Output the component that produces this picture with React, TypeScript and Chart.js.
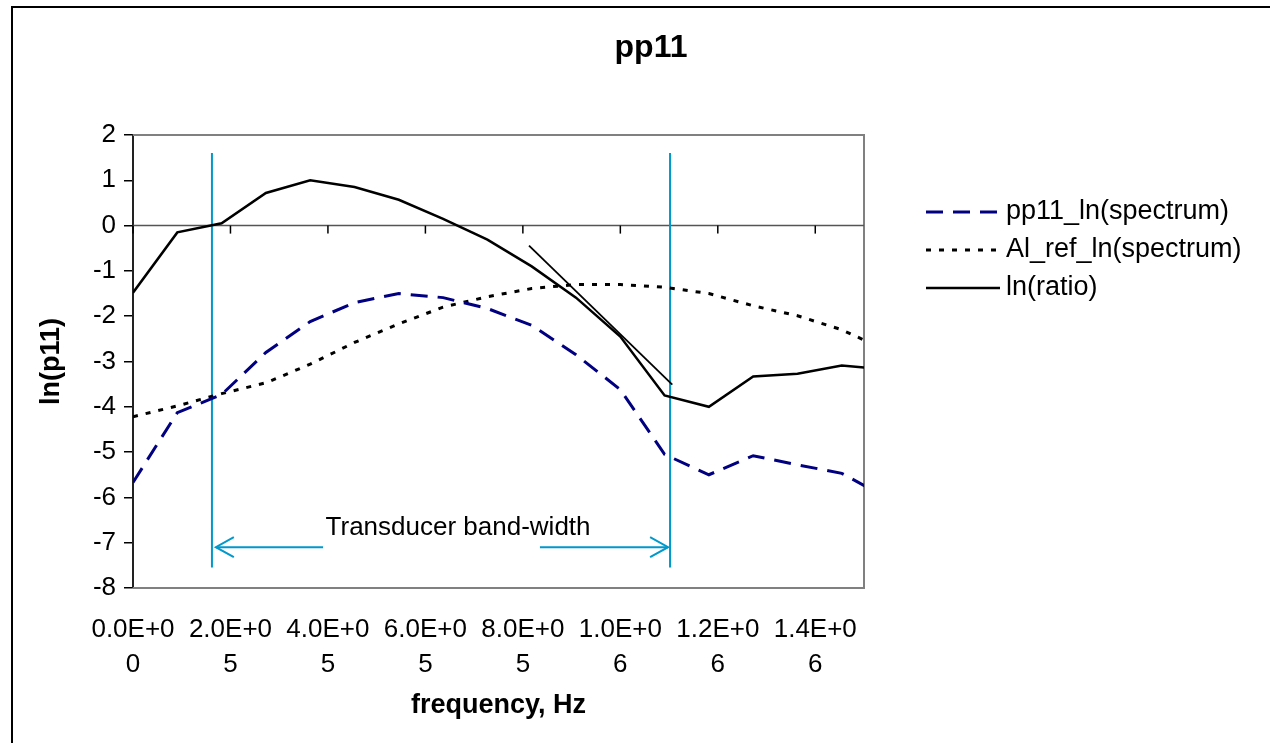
import { useEffect, useRef } from "react";
import { Chart, registerables } from "chart.js";

Chart.register(...registerables);

// ---- data ----
const FREQ_HZ = [
  0, 90900, 181800, 272700, 363600, 454500, 545400, 636300, 727200, 818100,
  909000, 999900, 1090800, 1181700, 1272600, 1363500, 1454400, 1545300,
];
const PP11_LN = [
  -5.67, -4.13, -3.73, -2.8, -2.12, -1.7, -1.5, -1.59, -1.83, -2.2,
  -2.85, -3.62, -5.05, -5.5, -5.08, -5.28, -5.47, -6.0,
];
const AL_REF_LN = [
  -4.22, -3.98, -3.71, -3.47, -3.06, -2.58, -2.17, -1.8, -1.57, -1.39,
  -1.3, -1.3, -1.36, -1.5, -1.77, -1.99, -2.3, -2.75,
];
const LN_RATIO = [
  -1.48, -0.15, 0.05, 0.72, 1.0, 0.85, 0.57, 0.15, -0.31, -0.9,
  -1.59, -2.45, -3.75, -4.0, -3.33, -3.27, -3.09, -3.17,
];
const TANGENT_X = [812600, 1106600];
const TANGENT_Y = [-0.44, -3.51];
const BAND_EDGES_HZ = [162000, 1102000];
const BAND_LINE_Y = [1.6, -7.55];
const ARROW_Y = -7.1;
const LEFT_ARROW_X = [390000, 170000];
const RIGHT_ARROW_X = [835000, 1098000];
const BAND_LABEL = "Transducer band-width";
const BAND_LABEL_POS = { x: 667000, y: -6.67 };

const SERIES_NAMES = ["pp11_ln(spectrum)", "Al_ref_ln(spectrum)", "ln(ratio)"];
const TITLE = "pp11";
const X_TITLE = "frequency, Hz";
const Y_TITLE = "ln(p11)";

const X_MIN = 0;
const X_MAX = 1500000;
const Y_MIN = -8;
const Y_MAX = 2;
const X_TICK_VALUES = [0, 200000, 400000, 600000, 800000, 1000000, 1200000, 1400000];
const X_TICK_LABELS = [
  ["0.0E+0", "0"],
  ["2.0E+0", "5"],
  ["4.0E+0", "5"],
  ["6.0E+0", "5"],
  ["8.0E+0", "5"],
  ["1.0E+0", "6"],
  ["1.2E+0", "6"],
  ["1.4E+0", "6"],
];

// ---- styles ----
const FONT = '"Liberation Sans", Arial, Helvetica, sans-serif';
const BLUE = "#0099CC";
const NAVY = "#000080";

export default function App() {
  const ref = useRef<HTMLCanvasElement>(null);

  useEffect(() => {
    const canvas = ref.current;
    if (!canvas) return;

    const pts = (ys: number[]) => FREQ_HZ.map((x, i) => ({ x, y: ys[i] }));
    const noClip = { left: 0, top: 0, right: 0, bottom: 0 };

    const seriesStyles = [
      { color: NAVY, width: 3, dash: [17, 10] },
      { color: "#000", width: 3, dash: [5, 8] },
      { color: "#000", width: 2.5, dash: [] as number[] },
    ];

    const decor = {
      id: "decor",
      beforeDatasetsDraw(chart: any) {
        const { ctx, chartArea: a, scales } = chart;
        const xs = scales.x;
        const ys = scales.y;
        ctx.save();
        ctx.strokeStyle = "#808080";
        ctx.lineWidth = 2;
        ctx.beginPath();
        ctx.moveTo(a.left, a.top);
        ctx.lineTo(a.right, a.top);
        ctx.lineTo(a.right, a.bottom);
        ctx.lineTo(a.left, a.bottom);
        ctx.stroke();
        const y0 = ys.getPixelForValue(0);
        ctx.strokeStyle = "#555";
        ctx.lineWidth = 1.5;
        ctx.beginPath();
        ctx.moveTo(a.left, y0);
        ctx.lineTo(a.right, y0);
        ctx.stroke();
        ctx.strokeStyle = "#000";
        ctx.lineWidth = 1.5;
        for (const v of X_TICK_VALUES) {
          const px = xs.getPixelForValue(v);
          ctx.beginPath();
          ctx.moveTo(px, y0);
          ctx.lineTo(px, y0 + 8);
          ctx.stroke();
        }
        ctx.restore();
      },
      afterDatasetsDraw(chart: any) {
        const { ctx, scales } = chart;
        const xs = scales.x;
        const ys = scales.y;
        const ay = ys.getPixelForValue(ARROW_Y);
        ctx.save();
        ctx.strokeStyle = BLUE;
        ctx.lineWidth = 2;
        const arrow = (fromV: number, toV: number) => {
          const x1 = xs.getPixelForValue(fromV);
          const x2 = xs.getPixelForValue(toV);
          const dir = Math.sign(x2 - x1);
          ctx.beginPath();
          ctx.moveTo(x1, ay);
          ctx.lineTo(x2, ay);
          ctx.stroke();
          ctx.beginPath();
          ctx.moveTo(x2 - dir * 18, ay - 10);
          ctx.lineTo(x2, ay);
          ctx.lineTo(x2 - dir * 18, ay + 10);
          ctx.stroke();
        };
        arrow(LEFT_ARROW_X[0], LEFT_ARROW_X[1]);
        arrow(RIGHT_ARROW_X[0], RIGHT_ARROW_X[1]);
        ctx.fillStyle = "#000";
        ctx.font = `26px ${FONT}`;
        ctx.textAlign = "center";
        ctx.textBaseline = "middle";
        ctx.fillText(
          BAND_LABEL,
          xs.getPixelForValue(BAND_LABEL_POS.x),
          ys.getPixelForValue(BAND_LABEL_POS.y)
        );
        ctx.restore();
      },
      afterDraw(chart: any) {
        const { ctx, chartArea: a } = chart;
        ctx.save();
        ctx.strokeStyle = "#000";
        ctx.lineWidth = 2;
        ctx.beginPath();
        ctx.moveTo(12, 743);
        ctx.lineTo(12, 7);
        ctx.lineTo(1270, 7);
        ctx.stroke();
        ctx.fillStyle = "#000";
        ctx.textAlign = "center";
        ctx.textBaseline = "middle";
        ctx.font = `bold 32px ${FONT}`;
        ctx.fillText(TITLE, 651, 48);
        ctx.font = `bold 27px ${FONT}`;
        ctx.fillText(X_TITLE, (a.left + a.right) / 2, 706);
        ctx.save();
        ctx.translate(52, (a.top + a.bottom) / 2);
        ctx.rotate(-Math.PI / 2);
        ctx.fillText(Y_TITLE, 0, 0);
        ctx.restore();
        const rowsY = [212, 250, 288];
        ctx.font = `27px ${FONT}`;
        ctx.textAlign = "left";
        SERIES_NAMES.forEach((name, i) => {
          const st = seriesStyles[i];
          ctx.strokeStyle = st.color;
          ctx.lineWidth = st.width;
          ctx.setLineDash(st.dash);
          ctx.beginPath();
          ctx.moveTo(926, rowsY[i]);
          ctx.lineTo(1000, rowsY[i]);
          ctx.stroke();
          ctx.setLineDash([]);
          ctx.fillStyle = "#000";
          ctx.fillText(name, 1006, rowsY[i]);
        });
        ctx.restore();
      },
    };

    const chart = new Chart(canvas, {
      type: "line",
      data: {
        datasets: [
          {
            label: SERIES_NAMES[0],
            data: pts(PP11_LN),
            borderColor: seriesStyles[0].color,
            borderWidth: seriesStyles[0].width,
            borderDash: seriesStyles[0].dash,
            pointRadius: 0,
            tension: 0,
            fill: false,
            clip: noClip,
          },
          {
            label: SERIES_NAMES[1],
            data: pts(AL_REF_LN),
            borderColor: seriesStyles[1].color,
            borderWidth: seriesStyles[1].width,
            borderDash: seriesStyles[1].dash,
            pointRadius: 0,
            tension: 0,
            fill: false,
            clip: noClip,
          },
          {
            label: SERIES_NAMES[2],
            data: pts(LN_RATIO),
            borderColor: seriesStyles[2].color,
            borderWidth: seriesStyles[2].width,
            pointRadius: 0,
            tension: 0,
            fill: false,
            clip: noClip,
          },
          {
            label: "tangent",
            data: TANGENT_X.map((x, i) => ({ x, y: TANGENT_Y[i] })),
            borderColor: "#000",
            borderWidth: 1.8,
            pointRadius: 0,
            fill: false,
          },
          {
            label: "band low",
            data: BAND_LINE_Y.map((y) => ({ x: BAND_EDGES_HZ[0], y })),
            borderColor: BLUE,
            borderWidth: 2,
            pointRadius: 0,
            fill: false,
          },
          {
            label: "band high",
            data: BAND_LINE_Y.map((y) => ({ x: BAND_EDGES_HZ[1], y })),
            borderColor: BLUE,
            borderWidth: 2,
            pointRadius: 0,
            fill: false,
          },
        ],
      },
      options: {
        animation: false,
        responsive: false,
        events: [],
        layout: { padding: { left: 0, top: 135, right: 406, bottom: 0 } },
        plugins: {
          legend: { display: false },
          title: { display: false },
          tooltip: { enabled: false },
        },
        scales: {
          x: {
            type: "linear",
            min: X_MIN,
            max: X_MAX,
            position: "bottom",
            afterBuildTicks: (s: any) => {
              s.ticks = X_TICK_VALUES.map((v) => ({ value: v }));
            },
            afterFit: (s: any) => {
              s.height = 155;
            },
            grid: { display: false, drawTicks: false },
            border: { display: false },
            ticks: {
              autoSkip: false,
              maxRotation: 0,
              minRotation: 0,
              padding: 24,
              color: "#000",
              font: { family: FONT, size: 26, lineHeight: 1.35 },
              callback: (v: any) => X_TICK_LABELS[X_TICK_VALUES.indexOf(Number(v))] ?? "",
            },
          },
          y: {
            type: "linear",
            min: Y_MIN,
            max: Y_MAX,
            afterFit: (s: any) => {
              s.width = 133;
            },
            grid: {
              drawOnChartArea: false,
              drawTicks: true,
              tickLength: 9,
              color: "#000",
              lineWidth: 1.5,
            },
            border: { display: true, color: "#222", width: 2 },
            ticks: {
              stepSize: 1,
              padding: 8,
              color: "#000",
              font: { family: FONT, size: 26 },
            },
          },
        },
      },
      plugins: [decor],
    } as any);

    return () => chart.destroy();
  }, []);

  return (
    <div
      style={{
        position: "absolute",
        left: 0,
        top: 0,
        width: 1270,
        height: 743,
        background: "#fff",
      }}
    >
      <canvas ref={ref} width={1270} height={743} style={{ display: "block" }} />
    </div>
  );
}
